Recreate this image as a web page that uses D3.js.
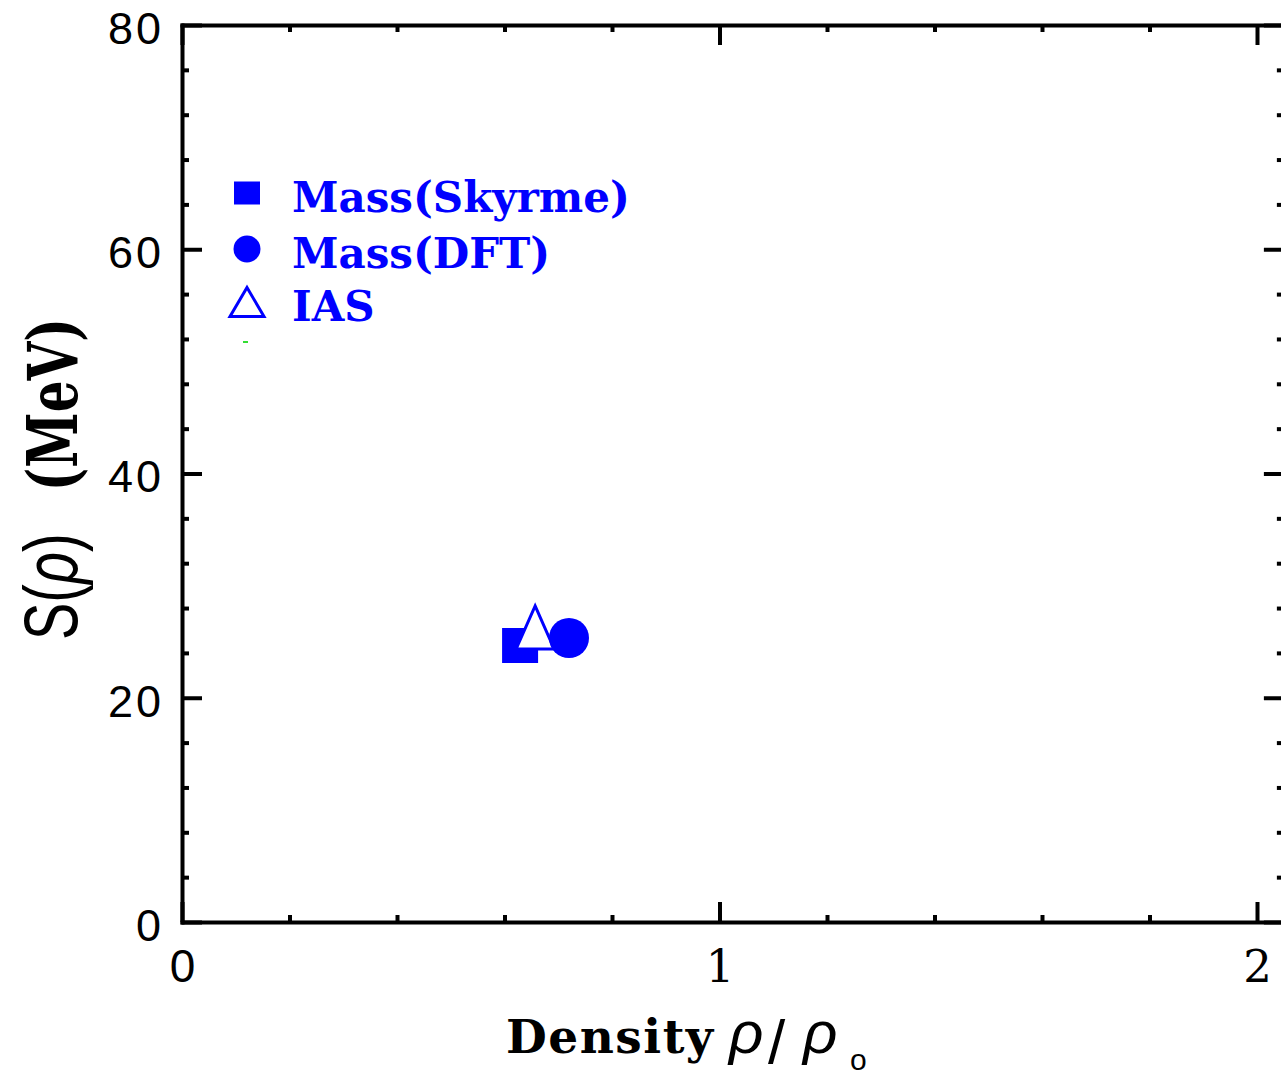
<!DOCTYPE html>
<html>
<meta charset='utf-8'>
<style>
  body{ margin:0; background:#fff }
  .ax path.domain{ stroke:#000; stroke-width:4px; stroke-linecap:square }
  .ax line{ stroke:#000; stroke-width:4px }
  .ax text{ fill:#000; font-family:'Liberation Sans', Arial, sans-serif; font-size:45px }
  .leg text{ fill:#0000ff; font-family:'DejaVu Serif', serif; font-weight:bold; font-size:42px }
</style>
<body>
<script src='https://cdn.jsdelivr.net/npm/d3@7'></script>
<script>

  // values (legend order)
  var series    = ['Mass(Skyrme)', 'Mass(DFT)', 'IAS']
  var shapes    = ['square', 'circle', 'triangle']
  var density   = [0.629, 0.72, 0.657]
  var symEnergy = [24.66, 25.33, 26.27]
  var drawOrder = [0, 2, 1]

  var xTicks = [0, 1, 2]
  var xMinor = [0.2, 0.4, 0.6, 0.8, 1.2, 1.4, 1.6, 1.8]
  var yTicks = [0, 20, 40, 60, 80]
  var yMinor = [4, 8, 12, 16, 24, 28, 32, 36, 44, 48, 52, 56, 64, 68, 72, 76]

  var blue = '#0000ff'

  var W = 1281, H = 1077
  var svg = d3.select('body').append('svg').attr('width', W).attr('height', H)

  var x = d3.scaleLinear().domain([0, 2.05]).range([182, 182 + 2.05 * 537.5])
  var y = d3.scaleLinear().domain([0, 80]).range([922, 25])

  // ---- frame: four axes, ticks pointing inwards
  function minor(g, axis){
    g.append('g').attr('class', 'ax').call(axis.tickSize(-7).tickFormat(''))
      .select('.domain').remove()
  }

  var gLeft = svg.append('g').attr('class', 'ax').attr('transform', 'translate(182,0)')
  gLeft.call(d3.axisLeft(y).tickValues(yTicks).tickSize(-20).tickSizeOuter(0).tickPadding(18))
  gLeft.selectAll('text').attr('dy', '0.41em').style('letter-spacing', '3px')
  minor(gLeft, d3.axisLeft(y).tickValues(yMinor))

  var gRight = svg.append('g').attr('class', 'ax').attr('transform', 'translate(' + x(2.05) + ',0)')
  gRight.call(d3.axisRight(y).tickValues(yTicks).tickSize(-20).tickSizeOuter(0).tickFormat(''))
  minor(gRight, d3.axisRight(y).tickValues(yMinor))

  var gTop = svg.append('g').attr('class', 'ax').attr('transform', 'translate(0,25)')
  gTop.call(d3.axisTop(x).tickValues(xTicks).tickSize(-20).tickSizeOuter(0).tickFormat(''))
  minor(gTop, d3.axisTop(x).tickValues(xMinor))

  var gBottom = svg.append('g').attr('class', 'ax').attr('transform', 'translate(0,922)')
  gBottom.call(d3.axisBottom(x).tickValues(xTicks).tickSize(-20).tickSizeOuter(0).tickFormat(d3.format('d')))
  gBottom.selectAll('text').attr('dy', null).attr('y', 60)
    .style('font-family', d => d === 0 ? null : "'DejaVu Serif', serif")
    .style('font-size', d => d === 0 ? '46px' : '45px')
  minor(gBottom, d3.axisBottom(x).tickValues(xMinor))

  // ---- markers
  function tri(w, h){
    return 'M0,' + (-h / 2) + 'L' + (w / 2) + ',' + (h / 2) + 'L' + (-w / 2) + ',' + (h / 2) + 'Z'
  }
  function marker(sel, shape, big){
    if (shape === 'square'){
      var s = big ? 36 : 26
      sel.append('rect').attr('x', -s / 2).attr('y', big ? -17.5 : -11.5).attr('width', s).attr('height', big ? 35 : 23)
        .attr('fill', blue)
    } else if (shape === 'circle'){
      sel.append('circle').attr('r', big ? 20 : 13.5).attr('fill', blue)
    } else {
      sel.append('path').attr('d', big ? tri(38, 43) : tri(34, 29))
        .attr('fill', '#fff').attr('stroke', blue).attr('stroke-width', 3).attr('stroke-linejoin', 'miter')
    }
  }

  var pts = svg.append('g')
  drawOrder.forEach(function(i){
    var p = pts.append('g').attr('transform', 'translate(' + x(density[i]) + ',' + y(symEnergy[i]) + ')')
    marker(p, shapes[i], true)
  })

  // ---- legend
  var leg = svg.append('g').attr('class', 'leg').attr('transform', 'translate(247,0)')
  var rowY = [193, 249, 302]
  series.forEach(function(name, i){
    var r = leg.append('g').attr('transform', 'translate(0,' + rowY[i] + ')')
    marker(r, shapes[i], false)
    r.append('text').attr('x', 45).attr('y', 19).text(name)
  })
  leg.append('line').attr('x1', -4).attr('x2', 1).attr('y1', 342).attr('y2', 342)
    .attr('stroke', '#33dd33').attr('stroke-width', 2)

  // ---- axis titles
  var xl = svg.append('g').attr('transform', 'translate(0,1053)')
  xl.append('text').attr('x', 506).style('font-family', "'DejaVu Serif', serif").style('font-weight', 'bold')
    .style('font-size', '47px').style('letter-spacing', '1.5px').text('Density')
  xl.append('text').attr('x', 729).style('font-family', "'Liberation Sans', sans-serif").style('font-style', 'italic')
    .style('font-size', '60px').text('ρ')
  xl.append('text').attr('x', 768).attr('y', 10).style('font-family', "'Liberation Sans', sans-serif")
    .style('font-size', '62px').text('/')
  xl.append('text').attr('x', 803).style('font-family', "'Liberation Sans', sans-serif").style('font-style', 'italic')
    .style('font-size', '60px').text('ρ')
  xl.append('text').attr('x', 850).attr('y', 17).style('font-family', "'Liberation Sans', sans-serif")
    .style('font-size', '30px').text('o')

  var yl = svg.append('g').attr('transform', 'translate(77,640) rotate(-90) scale(1,1.37)')
  var yt = yl.append('text').attr('x', 0)
  yt.append('tspan').style('font-family', "'Liberation Sans', sans-serif").style('font-size', '56px').text('S(')
  yt.append('tspan').style('font-family', "'Liberation Sans', sans-serif").style('font-style', 'italic').style('font-size', '56px').text('ρ')
  yt.append('tspan').style('font-family', "'Liberation Sans', sans-serif").style('font-size', '56px').text(')')
  yt.append('tspan').attr('dx', 42).style('font-family', "'DejaVu Serif', serif").style('font-weight', 'bold')
    .style('font-size', '50px').text('(MeV)')

</script>
</body>
</html>
